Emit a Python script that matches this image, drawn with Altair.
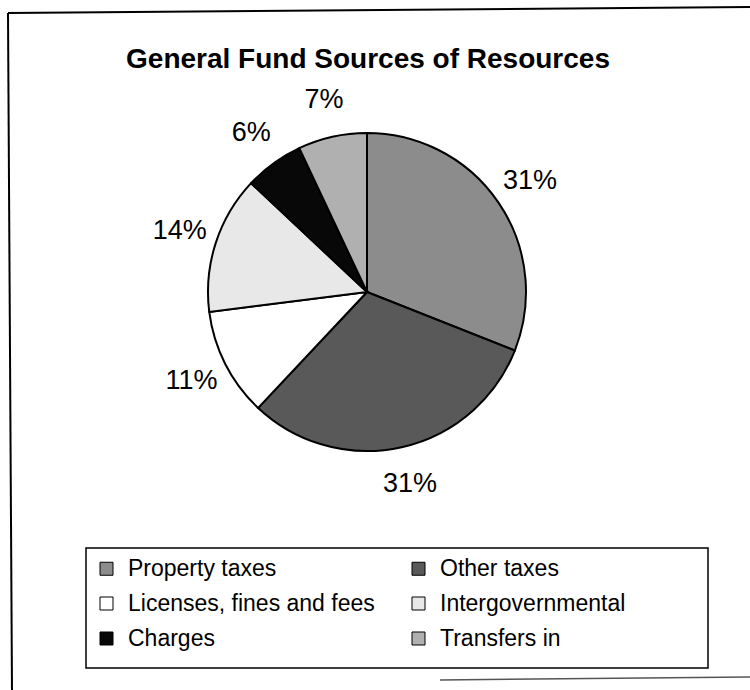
import altair as alt
import pandas as pd

title_text = "General Fund Sources of Resources"
sources = ["Property taxes", "Other taxes", "Licenses, fines and fees",
           "Intergovernmental", "Charges", "Transfers in"]
shares = [31, 31, 11, 14, 6, 7]
labels = ["31%", "31%", "11%", "14%", "6%", "7%"]
fills = ["#8c8c8c", "#595959", "#ffffff", "#e8e8e8", "#080808", "#b0b0b0"]

FONT = "Liberation Sans"
CX, CY = 367, 292

df = pd.DataFrame({"source": sources, "value": shares, "label": labels,
                   "order": list(range(len(sources)))})
one = pd.DataFrame({"t": [title_text]})

base = alt.Chart(df).encode(
    theta=alt.Theta("value:Q", stack=True),
    order=alt.Order("order:Q"),
)

pie = base.mark_arc(outerRadius=159, stroke="black", strokeWidth=2).encode(
    x=alt.value(CX), y=alt.value(CY),
    color=alt.Color(
        "source:N",
        scale=alt.Scale(domain=sources, range=fills),
        legend=alt.Legend(
            title=None, orient="none", legendX=95, legendY=557,
            direction="horizontal",
            columns=2, columnPadding=32, rowPadding=11,
            symbolType="square", symbolSize=169,
            symbolStrokeColor="black", symbolStrokeWidth=1,
            symbolOpacity=1,
            labelFont=FONT, labelFontSize=23, labelColor="black",
            labelLimit=500, labelOffset=10, padding=0,
        ),
    ),
)

pct = base.mark_text(radius=197, font=FONT, fontSize=27, color="black").encode(
    x=alt.value(CX), y=alt.value(CY), text="label:N"
)

title = alt.Chart(one).mark_text(
    font=FONT, fontSize=28, fontWeight="bold", color="black",
    align="center", baseline="alphabetic"
).encode(x=alt.value(368), y=alt.value(68), text="t:N")

legend_box = alt.Chart(one).mark_rect(
    fill="white", fillOpacity=0, stroke="black", strokeWidth=1.5
).encode(x=alt.value(86), x2=alt.value(708), y=alt.value(548), y2=alt.value(668))

frame_left = alt.Chart(one).mark_rule(color="black", strokeWidth=2).encode(
    x=alt.value(8), x2=alt.value(12), y=alt.value(13), y2=alt.value(690))
frame_top = alt.Chart(one).mark_rule(color="black", strokeWidth=2).encode(
    x=alt.value(8), x2=alt.value(750), y=alt.value(13), y2=alt.value(7))
frame_bottom = alt.Chart(one).mark_rule(color="#555555", strokeWidth=1.5).encode(
    x=alt.value(440), x2=alt.value(750), y=alt.value(680), y2=alt.value(677))

chart = alt.layer(
    legend_box, pie, pct, title, frame_left, frame_top, frame_bottom
).properties(
    width=750, height=690, padding=0,
    autosize=alt.AutoSizeParams(type="none"),
    background="white",
).configure_view(stroke=None)

chart.save("out.html", embed_options={"renderer": "svg", "actions": False})
